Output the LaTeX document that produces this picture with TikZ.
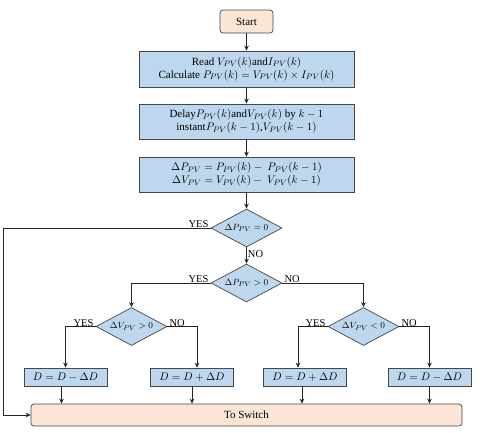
\documentclass[tikz,border=0pt]{standalone}
\usepackage{fontspec}
\setmainfont{Liberation Serif}
\usetikzlibrary{shapes.geometric,arrows.meta}
\definecolor{bluefill}{RGB}{189,215,238}
\definecolor{peach}{RGB}{251,229,214}
\definecolor{edgec}{RGB}{70,70,70}
\begin{document}
\begin{tikzpicture}[x=1pt,y=-1pt,
  proc/.style={draw=edgec,fill=bluefill,line width=0.7pt,inner sep=0pt,align=center,font=\fontsize{11}{13}\selectfont},
  term/.style={draw=edgec,fill=peach,line width=0.7pt,rounded corners=3pt,inner sep=0pt,font=\fontsize{11}{13}\selectfont},
  dec/.style={diamond,shape aspect=1.87,draw=edgec,fill=bluefill,line width=0.7pt,inner sep=0pt,minimum width=71pt,minimum height=38pt,font=\fontsize{9.5}{11}\selectfont},
  conn/.style={line width=0.9pt,draw=black!85,-{Stealth[length=5pt,width=4.5pt]}},
  lbl/.style={font=\fontsize{10.5}{12}\selectfont,inner sep=1pt}]
\useasboundingbox (0,0) rectangle (480,432);

\node[term,minimum width=53pt,minimum height=23pt] (start) at (246.5,21.5) {Start};
\node[proc,minimum width=215pt,minimum height=36pt] (b1) at (246.5,69)
  {Read $V_{PV}(k)$and$I_{PV}(k)$\\ Calculate $P_{PV}(k)=V_{PV}(k)\times I_{PV}(k)$};
\node[proc,minimum width=215pt,minimum height=35pt] (b2) at (246.5,121.5)
  {Delay$P_{PV}(k)$and$V_{PV}(k)$ by $k-1$\\ instant$P_{PV}(k-1)$,$V_{PV}(k-1)$};
\node[proc,minimum width=215pt,minimum height=35pt] (b3) at (246.5,174.5)
  {$\Delta P_{PV}=P_{PV}(k)-\ P_{PV}(k-1)$\\ $\Delta V_{PV}=V_{PV}(k)-\ V_{PV}(k-1)$};
\node[dec] (d1) at (246.5,228) {$\Delta P_{PV}=0$};
\node[dec] (d2) at (246.5,283) {$\Delta P_{PV}>0$};
\node[dec] (d3) at (131.5,326.5) {$\Delta V_{PV}>0$};
\node[dec] (d4) at (363.5,326.5) {$\Delta V_{PV}<0$};
\node[proc,minimum width=83pt,minimum height=18pt] (ba) at (65.5,377) {$D=D-\Delta D$};
\node[proc,minimum width=83pt,minimum height=18pt] (bb) at (192,377) {$D=D+\Delta D$};
\node[proc,minimum width=83pt,minimum height=18pt] (bc) at (305,377) {$D=D+\Delta D$};
\node[proc,minimum width=83pt,minimum height=18pt] (bd) at (429.5,377) {$D=D-\Delta D$};
\node[term,minimum width=431pt,minimum height=22pt] (sw) at (246.5,415) {To Switch};
\coordinate (L1) at (3,228);

\draw[conn] (start) -- (b1);
\draw[conn] (b1) -- (b2);
\draw[conn] (b2) -- (b3);
\draw[conn] (b3) -- (d1);
\draw[conn] (d1) -- node[lbl,right,pos=0.4]{NO} (d2);
\draw[conn] (d1.west) -- (L1) |- (sw.west);
\node[lbl,anchor=south east] at ([xshift=-1pt,yshift=-1pt]d1.west) {YES};
\draw[conn] (d2.west) -| (d3.north);
\draw[conn] (d2.east) -| (d4.north);
\node[lbl,anchor=south east] at ([xshift=-1pt,yshift=-1pt]d2.west) {YES};
\node[lbl,anchor=south west] at ([xshift=1pt,yshift=-1pt]d2.east) {NO};
\draw[conn] (d3.west) -| (ba.north);
\draw[conn] (d3.east) -| ([xshift=5pt]bb.north);
\node[lbl,anchor=south east] at ([xshift=-1pt,yshift=-1pt]d3.west) {YES};
\node[lbl,anchor=south west] at ([xshift=1pt,yshift=-1pt]d3.east) {NO};
\draw[conn] (d4.west) -| ([xshift=-7pt]bc.north);
\draw[conn] (d4.east) -| (bd.north);
\node[lbl,anchor=south east] at ([xshift=-1pt,yshift=-1pt]d4.west) {YES};
\node[lbl,anchor=south west] at ([xshift=1pt,yshift=-1pt]d4.east) {NO};
\draw[conn] ([xshift=-4pt]ba.south) -- ([xshift=-4pt]ba.south |- sw.north);
\draw[conn] (bb.south) -- (bb.south |- sw.north);
\draw[conn] ([xshift=-3pt]bc.south) -- ([xshift=-3pt]bc.south |- sw.north);
\draw[conn] (bd.south) -- (bd.south |- sw.north);
\end{tikzpicture}
\end{document}
